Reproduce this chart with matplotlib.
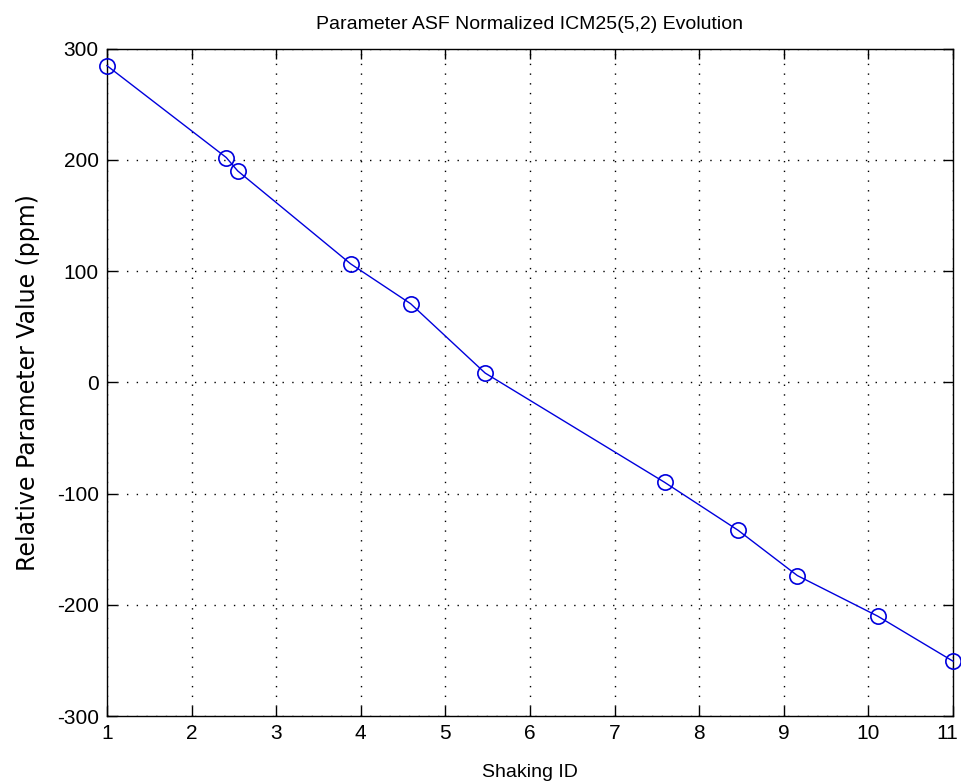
import matplotlib.pyplot as plt
import matplotlib.transforms as mtransforms
import numpy as np

shaking_id = [1.0, 2.41, 2.545, 3.88, 4.59, 5.47, 7.59, 8.46, 9.16, 10.11, 11.0]
rel_value = [284.8, 202.2, 190.2, 106.6, 70.7, 8.4, -89.8, -133.0, -173.7, -210.2, -250.7]
x_ticks = list(range(1, 12))
y_ticks = [-300, -200, -100, 0, 100, 200, 300]

plt.rcParams['font.family'] = ['Liberation Sans', 'DejaVu Sans']
plt.rcParams['axes.unicode_minus'] = False

fig = plt.figure(figsize=(9.61, 7.84), dpi=100)
ax = fig.add_axes([0.1113, 0.0867, 0.8804, 0.8511])

ax.plot(shaking_id, rel_value, color='#0000dd', linewidth=1.0,
        marker='o', markersize=11, markerfacecolor='none',
        markeredgecolor='#0000dd', markeredgewidth=1.2, clip_on=False, zorder=3)

ax.set_xlim(1, 11)
ax.set_ylim(-300, 300)
ax.set_xticks(x_ticks)
ax.set_yticks(y_ticks)
ax.tick_params(direction='in', length=7, width=1, top=True, right=True,
               labelsize=15, pad=6)
ax.grid(True, linestyle=(0, (1, 6)), color='black', linewidth=1.0)
for s in ax.spines.values():
    s.set_linewidth(1.0)

# last x label sits on the figure edge, nudge it left a bit
last = ax.get_xticklabels()[-1]
last.set_transform(last.get_transform() +
                   mtransforms.ScaledTranslation(-6 / 100, 0, fig.dpi_scale_trans))

ax.set_title('Parameter ASF Normalized ICM25(5,2) Evolution', fontsize=14, pad=14)
ax.set_xlabel('Shaking ID', fontsize=14, labelpad=15)
ax.set_ylabel('Relative Parameter Value (ppm)', fontsize=17, labelpad=12,
              family=['DejaVu Sans'])

fig.savefig('out.png', dpi=100)
